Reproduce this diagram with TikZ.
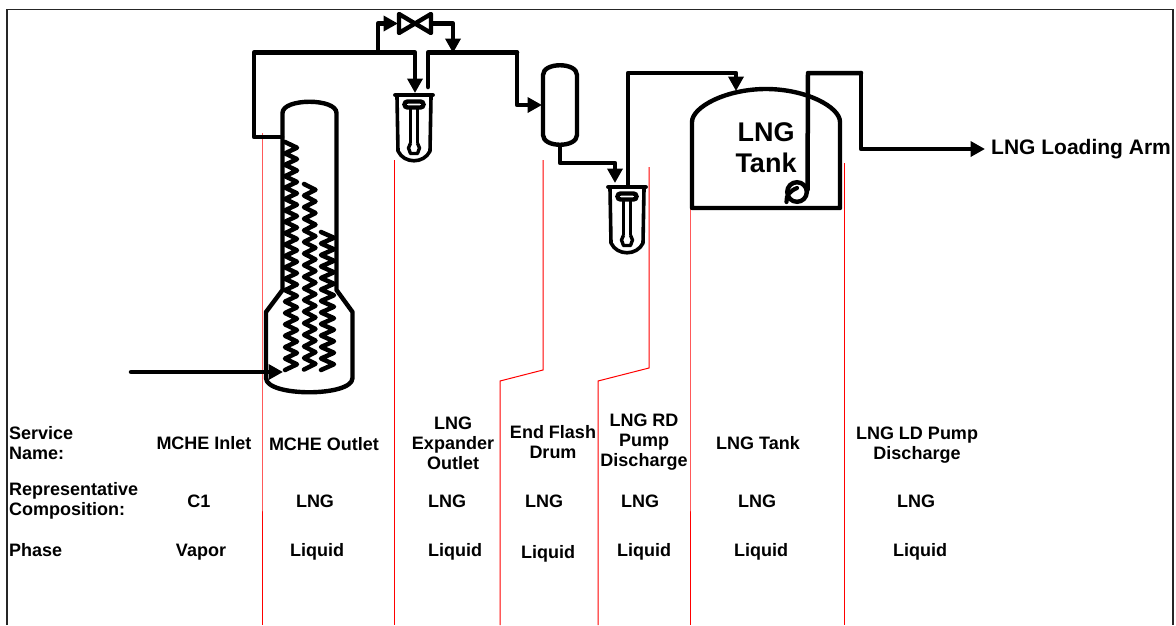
\documentclass[tikz,border=0pt]{standalone}
\usepackage{fontspec}
\setmainfont{Liberation Sans}
\usetikzlibrary{arrows.meta}
\tikzset{
  pipe/.style={line width=4.5pt,line join=round,line cap=round},
  flow/.style={pipe,-{Triangle[length=14.5pt,width=15pt]}},
  vessel/.style={line width=4.4pt,line join=round},
  coil/.style={line width=4.5pt,line join=round,line cap=round},
  redline/.style={draw=red,line width=1pt},
  lbl/.style={font=\fontsize{18}{20}\selectfont\bfseries,align=center,inner sep=0pt},
  lbll/.style={lbl,align=left,anchor=west},
}
\newcommand{\pumpcan}[1]{%
 \begin{scope}[shift={(#1)}]
  \draw[line width=4.8pt,line cap=round] (-18.5,0) -- (18.5,0);
  \draw[line width=3.6pt,line join=round] (-17,2) -- (-16,56) .. controls (-10,69) and (10,69) .. (16,56) -- (17,2);
  \draw[line width=4.4pt,rounded corners=3pt] (-9.5,6.5) rectangle (9.5,12.5);
  \draw[line width=3.4pt] (-3.4,13) -- (-3.4,48) (3.4,13) -- (3.4,48);
  \draw[line width=3.4pt,line join=round] (-3.4,48) -- (-5.5,53) -- (-3.5,58.5) -- (3.5,58.5) -- (5.5,53) -- (3.4,48);
 \end{scope}}
\begin{document}
\begin{tikzpicture}[x=1pt,y=-1pt]
\useasboundingbox (0,0) rectangle (1176,625);
\fill[white] (0,0) rectangle (1176,625);
% frame
\draw[line width=1.2pt,black!85] (7,625) -- (7,9.3) -- (1173,9.3) -- (1173,625);
% red lines
\draw[redline] (262,133) -- (262,400) -- (262,625);
\draw[redline] (394,160) -- (394,625);
\draw[redline] (543,160) -- (543,370) -- (500,381) -- (500,625);
\draw[redline] (649,167) -- (649,368) -- (598,381) -- (598,625);
\draw[redline] (690,163) -- (690,400) -- (690,625);
\draw[redline] (844,163) -- (844,625);
% MCHE
\draw[vessel] (282.5,290) -- (282.5,113) .. controls (282.5,98) and (336.5,98) .. (336.5,113) -- (336.5,290)
  -- (352.5,312) -- (352.5,378) .. controls (352.5,397) and (266,397) .. (266,378) -- (266,312) -- cycle;
\draw[coil] (285,142) foreach \i in {1,...,20} { -- (297,{142+11.4*\i-5.7}) -- (285,{142+11.4*\i}) };
\draw[coil] (304,184) foreach \i in {1,...,16} { -- (315.5,{184+11.6*\i-5.8}) -- (304,{184+11.6*\i}) };
\draw[coil] (321,232) foreach \i in {1,...,12} { -- (334,{232+11.5*\i-5.75}) -- (321,{232+11.5*\i}) };
% LNG in
\coordinate (feedS) at (131,372);
\coordinate (feedE) at (283,372);
\draw[flow] (feedS) -- (feedE);
% pipes from MCHE
\coordinate (mcheT) at (282,137);
\coordinate (exp1T) at (415,93);
\draw[flow] (mcheT) -- (254,137) -- (254,52.5) -- (415,52.5) -- (exp1T);
\pumpcan{414,95}
\coordinate (valveL) at (398,23.5);
\coordinate (valveR) at (432,23.5);
\draw[flow] (378,52.5) -- (378,23.5) -- (valveL);
\draw[line width=4.4pt,line join=round] (399,14) -- (431,33) -- (431,14) -- (399,33) -- cycle;
\draw[flow] (valveR) -- (453,23.5) -- (453,53);
\draw[pipe] (428,87) -- (428,52.5) -- (517,52.5);
% flash drum
\coordinate (drumL) at (542,105);
\draw[flow] (517,52.5) -- (517,105) -- (drumL);
\draw[vessel] (543,75) .. controls (543,62) and (577,62) .. (577,75) -- (577,135) .. controls (577,148) and (543,148) .. (543,135) -- cycle;
% to RD pump
\coordinate (exp2T) at (615,183);
\draw[flow] (560,146) -- (560,163) -- (615,163) -- (exp2T);
\pumpcan{627,187}
% to tank
\coordinate (tankT) at (736,91);
\draw[flow] (628,186) -- (628,73) -- (736,73) -- (tankT);
% tank
\draw[vessel] (692,208) -- (692,122) .. controls (692,107) and (726,89) .. (766,89) .. controls (806,89) and (840,107) .. (840,122) -- (840,208) -- cycle;
\node[lbl,font=\fontsize{27}{31}\selectfont\bfseries] (tanklbl) at (766,147.5) {LNG\\Tank};
% LD pump
\draw[line width=4.4pt] (797,192) circle (9.8);
\draw[line width=4.2pt,line cap=round] (786.5,202) .. controls (786,195) and (790,191) .. (797,188);
\coordinate (armE) at (985,149);
\draw[pipe] (807.5,190) -- (808,73) -- (861,73);
\draw[flow] (861,73) -- (861,149) -- (armE);
\node[anchor=west,inner sep=0pt,font=\fontsize{21}{24}\selectfont\bfseries] (arm) at (991,149.5) {LNG Loading Arm};
% table
\node[lbll] (r1) at (9,443.5) {Service\\Name:};
\node[lbll] (r2) at (9,501) {Representative\\Composition:};
\node[lbll] (r3) at (9,550) {Phase};
\node[lbl] (a1) at (204,443) {MCHE Inlet};
\node[lbl] (a2) at (324,444) {MCHE Outlet};
\node[lbl] (a3) at (453,443) {LNG\\Expander\\Outlet};
\node[lbl] (a4) at (553,442.5) {End Flash\\Drum};
\node[lbl] (a5) at (644,442) {LNG RD\\Pump\\Discharge};
\node[lbl] (a6) at (758,443) {LNG Tank};
\node[lbl] (a7) at (917,445) {LNG LD Pump\\Discharge};
\node[lbl] (b1) at (199,501) {C1};
\node[lbl] (b2) at (315,501) {LNG};
\node[lbl] (b3) at (447,501) {LNG};
\node[lbl] (b4) at (544,501) {LNG};
\node[lbl] (b5) at (640,501) {LNG};
\node[lbl] (b6) at (757,501) {LNG};
\node[lbl] (b7) at (916,501) {LNG};
\node[lbl] (c1) at (201,552) {Vapor};
\node[lbl] (c2) at (317,552) {Liquid};
\node[lbl] (c3) at (455,552) {Liquid};
\node[lbl] (c4) at (548,554) {Liquid};
\node[lbl] (c5) at (644,552) {Liquid};
\node[lbl] (c6) at (761,552) {Liquid};
\node[lbl] (c7) at (920,552) {Liquid};
\end{tikzpicture}
\end{document}
